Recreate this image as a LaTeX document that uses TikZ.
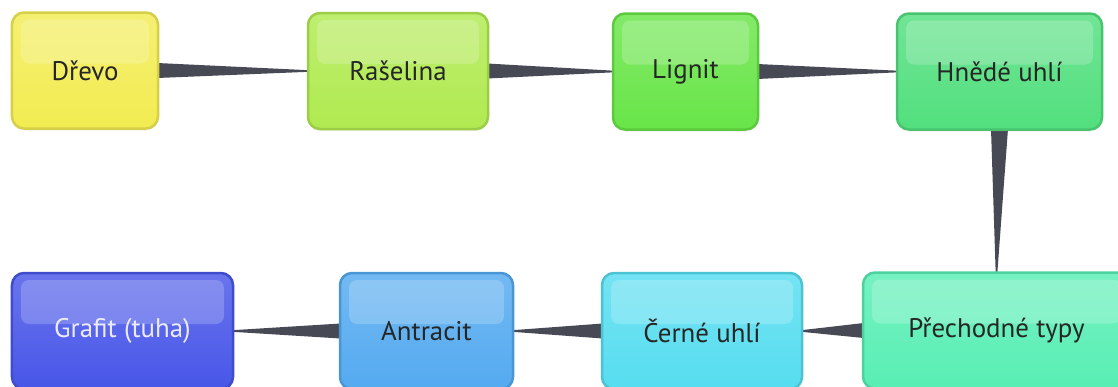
\documentclass[tikz,border=0pt]{standalone}
\usepackage{fontspec}
\setmainfont{PT Sans}
\usetikzlibrary{backgrounds,calc,shadows}

% barvy uzlu
\definecolor{cdrevo}{HTML}{F2EC52}
\definecolor{craselina}{HTML}{B0EA50}
\definecolor{clignit}{HTML}{68E548}
\definecolor{chnede}{HTML}{52DF7E}
\definecolor{cprechod}{HTML}{58EEB4}
\definecolor{ccerne}{HTML}{56DDF0}
\definecolor{cantracit}{HTML}{54AAF0}
\definecolor{cgrafit}{HTML}{4856E8}
\definecolor{cklin}{HTML}{474A55}

\tikzset{
  stage/.style={rectangle, rounded corners=12bp, line width=2.5bp,
    draw=#1!88!black, top color=#1!82!white, bottom color=#1,
    minimum height=116bp, text=black!85,
    font=\fontsize{27}{30}\selectfont,
    drop shadow={opacity=0.12, shadow xshift=0bp, shadow yshift=-2bp},
    path picture={
      \fill[white, opacity=0.2, rounded corners=8bp]
        ([shift={(9bp,-7bp)}]path picture bounding box.north west)
        rectangle ([shift={(-9bp,7bp)}]path picture bounding box.east);
    }},
  klin/.style={fill=cklin}
}

\begin{document}
\begin{tikzpicture}[x=1bp, y=-1bp]
  \useasboundingbox (0,0) rectangle (1118,386);
  \clip (0,0) rectangle (1118,386);

  % horni rada
  \node[stage=cdrevo, minimum width=146bp] (drevo) at (85,70.5) {Dřevo};
  \node[stage=craselina, minimum width=180bp] (raselina) at (398,71) {Rašelina};
  \node[stage=clignit, minimum width=145bp] (lignit) at (685.5,71.5) {Lignit};
  \node[stage=chnede, minimum width=205bp] (hnede) at (999.5,71.5) {Hnědé uhlí};

  % dolni rada
  \node[stage=cprechod, minimum width=267bp] (prechod) at (996.5,330.5) {Přechodné typy};
  \node[stage=ccerne, minimum width=200bp] (cerne) at (702,331) {Černé uhlí};
  \node[stage=cantracit, minimum width=173bp] (antracit) at (426.5,331) {Antracit};
  \node[stage=cgrafit, minimum width=221bp, text=white!92!blue] (grafit) at (122.5,331) {Grafit (tuha)};

  % kliny mezi uzly
  \begin{scope}[on background layer]
    \foreach \a/\b in {drevo/raselina, raselina/lignit, lignit/hnede}
      \fill[klin] ($(\a.east)+(-2,-7.5)$) -- ($(\b.west)+(2,-0.8)$)
        -- ($(\b.west)+(2,0.8)$) -- ($(\a.east)+(-2,7.5)$) -- cycle;
    \fill[klin] ($(hnede.south)+(-8.5,-2)$) -- ($(prechod.north)+(-0.8,2)$)
      -- ($(prechod.north)+(0.8,2)$) -- ($(hnede.south)+(8.5,-2)$) -- cycle;
    \foreach \a/\b in {prechod/cerne, cerne/antracit, antracit/grafit}
      \fill[klin] ($(\a.west)+(2,-7.5)$) -- ($(\b.east)+(-2,-0.8)$)
        -- ($(\b.east)+(-2,0.8)$) -- ($(\a.west)+(2,7.5)$) -- cycle;
  \end{scope}
\end{tikzpicture}
\end{document}
